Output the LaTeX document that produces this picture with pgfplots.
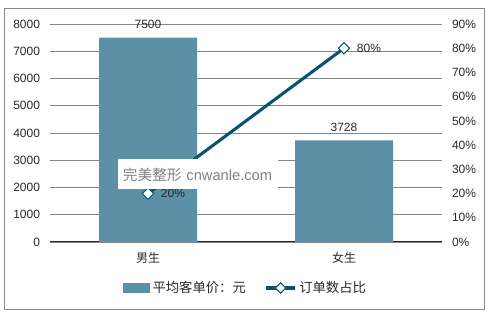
\documentclass[border=0pt]{standalone}
\usepackage{pgfplots}
\pgfplotsset{compat=1.18}
\usepackage{fontspec}
\setmainfont{Liberation Sans}
\newfontfamily\cjk{Noto Sans CJK SC}
\definecolor{barcol}{RGB}{92,144,167}
\definecolor{linecol}{RGB}{8,84,108}
\definecolor{gridcol}{RGB}{134,134,134}
\definecolor{txtcol}{RGB}{40,40,40}
\begin{document}
\begin{tikzpicture}
\useasboundingbox (0,0) rectangle (369pt,237.75pt);
\draw[gridcol, line width=0.75pt] (3pt,5.25pt) rectangle (363pt,231pt);
\begin{axis}[
  at={(37.5pt,56.25pt)}, anchor=south west,
  scale only axis, width=294pt, height=163.5pt,
  xmin=-0.5, xmax=1.5, ymin=0, ymax=8000,
  ytick={0,1000,...,8000},
  xtick={0,1}, xticklabels={{\cjk 男生},{\cjk 女生}},
  major tick length=0pt,
  axis x line*=bottom, axis y line*=left,
  x axis line style={black!85, line width=0.75pt, -},
  y axis line style={draw=none},
  ymajorgrids, grid style={gridcol, line width=0.6pt},
  /pgf/number format/assume math mode=true,
  /pgf/number format/1000 sep={},
  tick label style={font=\fontsize{9}{10}\selectfont, text=txtcol},
  yticklabel style={xshift=-4pt},
  xticklabel style={yshift=-4pt},
  ybar, bar width=73.5pt, bar shift=0pt,
  nodes near coords,
  every node near coord/.append style={font=\fontsize{9}{10}\selectfont, text=txtcol, yshift=3pt, /pgf/number format/1000 sep={}},
]
\addplot[fill=barcol, draw=none] coordinates {(0,7500) (1,3728)};
\end{axis}
\begin{axis}[
  at={(37.5pt,56.25pt)}, anchor=south west,
  scale only axis, width=294pt, height=163.5pt,
  xmin=-0.5, xmax=1.5, ymin=0, ymax=90,
  ytick={0,10,...,90},
  yticklabel={\pgfmathprintnumber{\tick}\%},
  major tick length=0pt,
  axis x line=none, axis y line*=right,
  y axis line style={draw=none},
  /pgf/number format/assume math mode=true,
  tick label style={font=\fontsize{9}{10}\selectfont, text=txtcol},
  yticklabel style={xshift=4pt},
  legend style={at={(0.5,-0.211)}, anchor=center, draw=none, fill=none,
    font=\fontsize{10}{11}\selectfont\cjk, text=txtcol, legend columns=2,
    /tikz/every even column/.append style={column sep=12pt},
    inner sep=0pt},
]
\addlegendimage{legend image code/.code={\fill[barcol] (0pt,-3.4pt) rectangle (19.5pt,3.4pt);}}
\addlegendentry{平均客单价：元}
\addplot[linecol, line width=2.3pt, mark=square*, mark size=3pt,
  mark options={rotate=45, fill=white, draw=linecol, line width=0.75pt},
  nodes near coords={\pgfmathprintnumber{\pgfplotspointmeta}\%},
  every node near coord/.append style={anchor=west, xshift=6pt, yshift=0pt, font=\fontsize{9}{10}\selectfont, text=txtcol},
  legend image code/.code={\draw[linecol, line width=2.3pt] (0pt,0pt) -- (21.75pt,0pt);
    \node[draw=linecol, fill=white, line width=0.75pt, rotate=45, inner sep=0pt, minimum size=5.5pt] at (10.9pt,0pt) {};}
] coordinates {(0,20) (1,80)};
\addlegendentry{订单数占比}
\end{axis}
\node[fill=white, minimum width=120pt, minimum height=22.5pt, inner xsep=3.5pt, text=gray, font=\fontsize{11}{12}\selectfont, anchor=west, align=left, text width=113pt] at (88.5pt,106.9pt) {{\cjk 完美整形} cnwanle.com};
\end{tikzpicture}
\end{document}
